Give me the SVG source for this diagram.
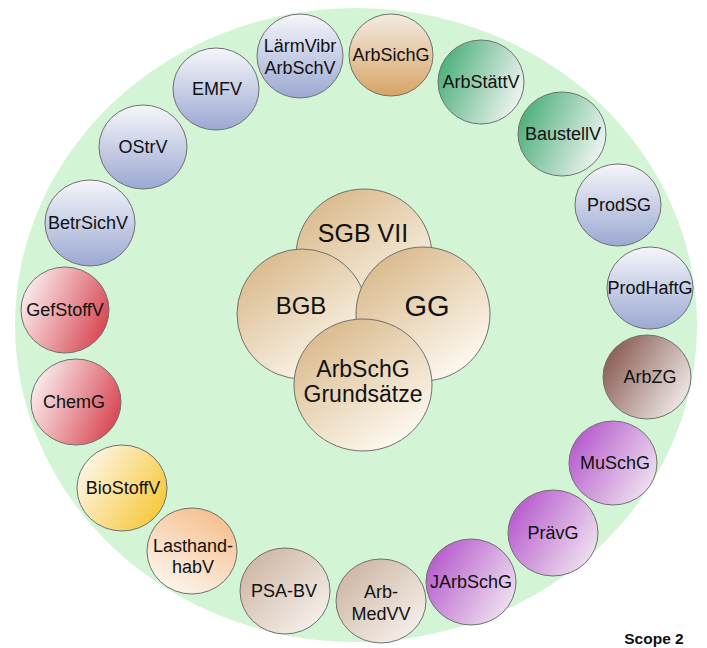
<svg xmlns="http://www.w3.org/2000/svg" width="707" height="648" viewBox="0 0 707 648">
<defs>
<linearGradient id="gBlue" x1="0" y1="0" x2="0" y2="1"><stop offset="0" stop-color="#f6f6fa"/><stop offset="1" stop-color="#9ba8d2"/></linearGradient>
<linearGradient id="gOrange" x1="0" y1="0" x2="0" y2="1"><stop offset="0" stop-color="#f4ebe2"/><stop offset="1" stop-color="#d7a466"/></linearGradient>
<linearGradient id="gGreen" x1="0" y1="0.3" x2="1" y2="0.7"><stop offset="0" stop-color="#4aae79"/><stop offset="1" stop-color="#f4f6f4"/></linearGradient>
<linearGradient id="gRed" x1="0" y1="0.3" x2="1" y2="0.7"><stop offset="0" stop-color="#fbf0f1"/><stop offset="1" stop-color="#d7434f"/></linearGradient>
<linearGradient id="gYellow" x1="0" y1="0.2" x2="1" y2="0.8"><stop offset="0" stop-color="#fdf8ef"/><stop offset="1" stop-color="#f6c630"/></linearGradient>
<linearGradient id="gPeach" x1="0.8" y1="0" x2="0.2" y2="1"><stop offset="0" stop-color="#f5bd89"/><stop offset="1" stop-color="#fdf7f1"/></linearGradient>
<linearGradient id="gBeige" x1="0" y1="0" x2="1" y2="1"><stop offset="0" stop-color="#c8ae9a"/><stop offset="1" stop-color="#fbf8f5"/></linearGradient>
<linearGradient id="gPurple" x1="0" y1="0.2" x2="1" y2="0.8"><stop offset="0" stop-color="#b454cb"/><stop offset="1" stop-color="#f1e8f1"/></linearGradient>
<linearGradient id="gBrown" x1="0" y1="0.2" x2="1" y2="0.8"><stop offset="0" stop-color="#85564d"/><stop offset="1" stop-color="#f5f0ef"/></linearGradient>
<linearGradient id="gTan" x1="0" y1="0" x2="0.7" y2="1"><stop offset="0" stop-color="#d4b07c"/><stop offset="1" stop-color="#fdf9f1"/></linearGradient>
</defs>
<style>
.c{stroke:#707070;stroke-width:1}
.t{font-family:"Liberation Sans",Arial,sans-serif;font-size:18px;fill:#111;text-anchor:middle}
.big{font-family:"Liberation Sans",Arial,sans-serif;fill:#111;text-anchor:middle}
</style>
<rect width="707" height="648" fill="#ffffff"/>
<ellipse id="bg" cx="356" cy="325" rx="341" ry="317" fill="#d3f5d5"/>

<g id="connectors"/>

<g id="n-laermvibr"><ellipse class="c" cx="300" cy="56" rx="43" ry="42" fill="url(#gBlue)"/><text class="t" x="300" y="52">LärmVibr</text><text class="t" x="300" y="74">ArbSchV</text></g>
<g id="n-arbsichg"><ellipse class="c" cx="391" cy="55" rx="42" ry="41" fill="url(#gOrange)"/><text class="t" x="391" y="61">ArbSichG</text></g>
<g id="n-arbstaettv"><ellipse class="c" cx="481" cy="82" rx="43" ry="42" fill="url(#gGreen)"/><text class="t" x="481" y="88">ArbStättV</text></g>
<g id="n-baustellv"><ellipse class="c" cx="562" cy="134" rx="44" ry="42" fill="url(#gGreen)"/><text class="t" x="563" y="140">BaustellV</text></g>
<g id="n-prodsg"><ellipse class="c" cx="618" cy="205" rx="43" ry="41" fill="url(#gBlue)"/><text class="t" x="619" y="211">ProdSG</text></g>
<g id="n-prodhaftg"><ellipse class="c" cx="650" cy="288" rx="43" ry="41" fill="url(#gBlue)"/><text class="t" x="650" y="294">ProdHaftG</text></g>
<g id="n-arbzg"><ellipse class="c" cx="647" cy="377" rx="44" ry="42" fill="url(#gBrown)"/><text class="t" x="650" y="383">ArbZG</text></g>
<g id="n-muschg"><ellipse class="c" cx="613" cy="463" rx="44" ry="42" fill="url(#gPurple)"/><text class="t" x="615" y="469">MuSchG</text></g>
<g id="n-praevg"><ellipse class="c" cx="553" cy="533" rx="45" ry="43" fill="url(#gPurple)"/><text class="t" x="553" y="539">PrävG</text></g>
<g id="n-jarbschg"><ellipse class="c" cx="471" cy="582" rx="45" ry="43" fill="url(#gPurple)"/><text class="t" x="471" y="588">JArbSchG</text></g>
<g id="n-arbmedvv"><ellipse class="c" cx="381" cy="601" rx="45" ry="42" fill="url(#gBeige)"/><text class="t" x="381" y="598">Arb-</text><text class="t" x="381" y="620">MedVV</text></g>
<g id="n-psabv"><ellipse class="c" cx="285" cy="591" rx="45" ry="43" fill="url(#gBeige)"/><text class="t" x="284" y="597">PSA-BV</text></g>
<g id="n-lasthandhabv"><ellipse class="c" cx="192" cy="551" rx="45" ry="43" fill="url(#gPeach)"/><text class="t" x="193" y="552">Lasthand-</text><text class="t" x="193" y="573">habV</text></g>
<g id="n-biostoffv"><ellipse class="c" cx="122" cy="488" rx="45" ry="43" fill="url(#gYellow)"/><text class="t" x="123" y="494">BioStoffV</text></g>
<g id="n-chemg"><ellipse class="c" cx="76" cy="402" rx="45" ry="43" fill="url(#gRed)"/><text class="t" x="74" y="408">ChemG</text></g>
<g id="n-gefstoffv"><ellipse class="c" cx="65" cy="310" rx="44" ry="43" fill="url(#gRed)"/><text class="t" x="65" y="316">GefStoffV</text></g>
<g id="n-betrsichv"><ellipse class="c" cx="90" cy="223" rx="45" ry="43" fill="url(#gBlue)"/><text class="t" x="88" y="229">BetrSichV</text></g>
<g id="n-ostrv"><ellipse class="c" cx="143" cy="147" rx="44" ry="42" fill="url(#gBlue)"/><text class="t" x="143" y="153">OStrV</text></g>
<g id="n-emfv"><ellipse class="c" cx="216" cy="89" rx="43" ry="41" fill="url(#gBlue)"/><text class="t" x="217" y="95">EMFV</text></g>

<g id="n-sgbvii"><ellipse class="c" cx="364" cy="256" rx="68" ry="67" fill="url(#gTan)"/><text class="big" x="363" y="242" font-size="25">SGB VII</text></g>
<g id="n-bgb"><ellipse class="c" cx="302" cy="314" rx="65" ry="65" fill="url(#gTan)"/><text class="big" x="301" y="314" font-size="24">BGB</text></g>
<g id="n-gg"><ellipse class="c" cx="423" cy="314" rx="67" ry="67" fill="url(#gTan)"/><text class="big" x="427" y="316" font-size="29">GG</text></g>
<g id="n-arbschg"><ellipse class="c" cx="363" cy="385" rx="69" ry="66" fill="url(#gTan)"/><text class="big" x="363" y="377" font-size="23">ArbSchG</text><text class="big" x="363" y="402" font-size="23">Grundsätze</text></g>

<text x="654" y="644" font-family="Liberation Sans, Arial, sans-serif" font-size="15.5" font-weight="bold" fill="#111" text-anchor="middle">Scope 2</text>
</svg>
